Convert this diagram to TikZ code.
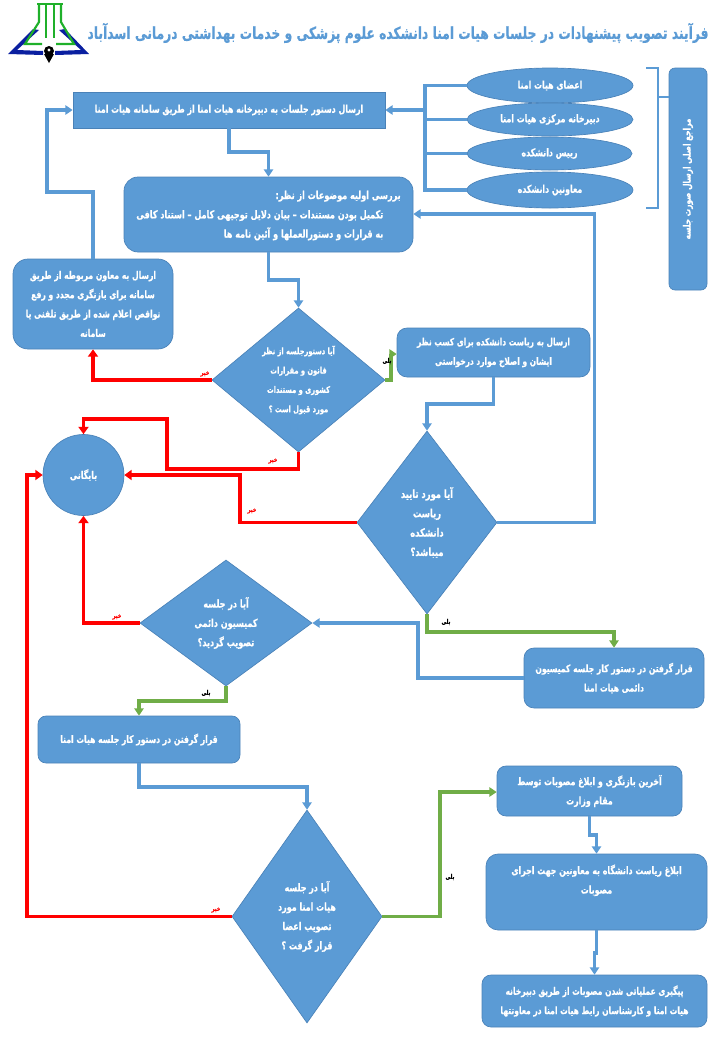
\documentclass[tikz,border=0pt]{standalone}
\usepackage{fontspec}
\usetikzlibrary{arrows.meta,shapes.geometric}
\TeXXeTstate=1
\newfontfamily\fafont[Script=Arabic,FakeStretch=0.82,FakeBold=0.5]{DejaVu Sans Condensed}
\newcommand{\fa}[1]{\beginR #1\endR}
\newcommand{\fs}[1]{\fontsize{#1}{14.5}\selectfont}
\definecolor{boxblue}{HTML}{5B9BD5}
\definecolor{boxedge}{HTML}{4A82B8}
\definecolor{lnblue}{HTML}{5B9BD5}
\definecolor{lngreen}{HTML}{70AD47}
\definecolor{lnred}{HTML}{FF0000}
\definecolor{bookblue}{HTML}{0A1FA0}
\definecolor{flaskgreen}{HTML}{1FB02A}
\tikzset{
  x=0.75pt,y=-0.75pt,
  sz/.style 2 args={minimum width=#1*0.75pt,minimum height=#2*0.75pt},
  shapebase/.style={draw=boxedge,line width=0.5pt,fill=boxblue,text=white,inner sep=0pt,align=center,
    font=\fafont\bfseries\fs{8}},
  sqbox/.style={shapebase,rectangle},
  rbox/.style={shapebase,rectangle,rounded corners=#1*0.75pt},
  oval/.style={shapebase,ellipse},
  decision/.style={shapebase,diamond,aspect=#1},
  circ/.style={shapebase,circle},
  flow/.style={color=lnblue,line width=2.3pt,-{Triangle[width=7pt,length=5.5pt]}},
  plain/.style={color=lnblue,line width=2.3pt},
  no/.style={color=lnred,line width=2.8pt,-{Triangle[width=7.5pt,length=5.5pt]}},
  yes/.style={color=lngreen,line width=2.3pt,-{Triangle[width=7pt,length=5.5pt]}},
  lblno/.style={text=lnred,inner sep=0pt,font=\fafont\bfseries\fontsize{5}{5}\selectfont},
  lblyes/.style={text=black,inner sep=0pt,font=\fafont\bfseries\fontsize{5}{5}\selectfont},
}
\begin{document}
\begin{tikzpicture}
\useasboundingbox (0,0) rectangle (712,1054);
% logo
\fill[bookblue] (33,29) -- (39,30) -- (17,50) -- (43,51) -- (43,55) -- (8,54) -- cycle;
\fill[bookblue] (65,29) -- (59,30) -- (81,50) -- (55,51) -- (55,55) -- (89,54) -- cycle;
\draw[flaskgreen,line width=1.6pt] (39,5) -- (39,22) -- (25,44) -- (42,44);
\draw[flaskgreen,line width=1.6pt] (61,5) -- (61,22) -- (74,44) -- (56,44);
\draw[flaskgreen,line width=1.6pt] (46,5) -- (46,38) (54,5) -- (54,38);
\draw[flaskgreen,line width=1.6pt] (37,4) -- (63,4);
\fill[black] (49,51) circle (5);
\fill[black] (44,54) -- (54,54) -- (49,63) -- cycle;
\fill[white] (49,50) circle (1.6);
% title
\node[text=boxblue,inner sep=0pt,font=\fafont\bfseries\fontsize{12.5}{14}\selectfont] (title) at (398,33) {\fa{فرآیند تصویب پیشنهادات در جلسات هیات امنا دانشکده علوم پزشکی و خدمات بهداشتی درمانی اسدآباد}};
% ellipses
\node[oval,sz={166}{35}] (e1) at (550,85.5) {\fa{اعضای هیات  امنا}};
\node[oval,sz={166}{33}] (e2) at (550,119.5) {\fa{دبیرخانه مرکزی هیات امنا}};
\node[oval,sz={165}{33}] (e3) at (549.5,153.5) {\fa{رییس  دانشکده}};
\node[oval,sz={166}{36}] (e4) at (550,190) {\fa{معاونین  دانشکده}};
% right box
\node[rbox=6,sz={38}{222}] (refs) at (688,179) {};
\node[text=white,inner sep=0pt,rotate=90,font=\fafont\bfseries\fs{7.6}] (refstext) at (refs.center) {\fa{مراجع اصلی ارسال صورت جلسه}};
% boxes
\node[sqbox,sz={312}{36}] (b1) at (229,110) {\fa{ارسال دستور جلسات به دبیرخانه هیات امنا  از طریق سامانه  هیات امنا}};
\node[rbox=14,sz={289}{75},font=\fafont\bfseries\fs{8.2}] (b2) at (268.5,214.5) {\begin{tabular}{@{}r@{}}\fa{بررسی اولیه موضوعات از نظر:}\\ \fa{تکمیل بودن مستندات – بیان دلایل توجیهی کامل – استناد کافی}\hspace*{13pt}\\ \fa{به قرارات و دستورالعملها و آئین نامه ها}\hspace*{13pt}\end{tabular}};
\node[rbox=15,sz={160}{90},font=\fafont\bfseries\fs{7.8}] (bl) at (93,304) {\fa{ارسال به معاون مربوطه از طریق}\\ \fa{سامانه برای بازنگری مجدد و رفع}\\ \fa{نواقص اعلام شده از طریق تلفنی یا}\\ \fa{سامانه}};
\node[rbox=10,sz={193}{49},font=\fafont\bfseries\fs{7.6}] (b3) at (493.5,352.5) {\fa{ارسال به ریاست دانشکده برای کسب نظر}\\ \fa{ایشان و اصلاح موارد درخواستی}};
\node[rbox=10,sz={180}{60},font=\fafont\bfseries\fs{7.8}] (b4) at (614,678) {\fa{قرار گرفتن در دستور کار جلسه کمیسیون}\\ \fa{دائمی هیات امنا}};
\node[rbox=8,sz={202}{47},font=\fafont\bfseries\fs{7.8}] (b5) at (139,739.5) {\fa{قرار گرفتن در دستور کار جلسه هیات امنا}};
\node[rbox=9,sz={185}{50}] (b6) at (589.5,791) {\fa{آخرین بازنگری و ابلاغ مصوبات توسط}\\ \fa{مقام وزارت}};
\node[rbox=12,sz={221}{76}] (b7) at (596.5,892) {\fa{ابلاغ ریاست دانشگاه به معاونین جهت اجرای}\\ \fa{مصوبات}\\[5pt]};
\node[rbox=9,sz={225}{52},font=\fafont\bfseries\fs{7.7}] (b8) at (594.5,1001) {\fa{پیگیری عملیاتی شدن مصوبات از طریق دبیرخانه}\\ \fa{هیات امنا و کارشناسان رابط هیات امنا در معاونتها}};
% circle
\node[circ,sz={81}{81}] (arch) at (83.5,475) {\fa{بایگانی}};
% decisions
\node[decision=1.2,sz={173}{144},font=\fafont\bfseries\fs{6.8}] (d1) at (298.5,380) {\fa{آیا دستورجلسه از نظر}\\ \fa{قانون و مقرارات}\\ \fa{کشوری و مستندات}\\ \fa{مورد قبول است ؟}};
\node[decision=0.765,sz={140}{183},font=\fafont\bfseries\fs{8.5}] (d2) at (427,522.5) {\fa{آیا مورد تایید}\\ \fa{ریاست}\\ \fa{دانشکده}\\ \fa{میباشد؟}};
\node[decision=1.37,sz={172}{126},font=\fafont\bfseries\fs{8.2}] (d3) at (226,623) {\fa{آیا در جلسه}\\ \fa{کمیسیون دائمی}\\ \fa{تصویب گردید؟}};
\node[decision=0.704,sz={150}{213},font=\fafont\bfseries\fs{8.1}] (d4) at (307,916.5) {\fa{آیا در جلسه}\\ \fa{هیات امنا مورد}\\ \fa{تصویب اعضا}\\ \fa{قرار گرفت ؟}};
% bracket
\coordinate (brT0) at (646,68);
\coordinate (brT) at (658,68);
\coordinate (brB) at (658,208);
\coordinate (brB0) at (646,208);
\coordinate (brM) at (658,97);
\draw[plain,line width=1.8pt] (brT0) -- (brT) -- (brB) -- (brB0);
\draw[plain,line width=1.8pt] (brM) -- (brM -| refs.west);
% collector
\coordinate (cT) at (425,85.5);
\coordinate (cB) at (425,190);
\coordinate (cM) at (425,110);
\draw[plain] (e1.west) -- (cT) -- (cB) -- (e4.west);
\draw[plain] (e2.west) -- (e2.west -| cT);
\draw[plain] (e3.west) -- (e3.west -| cT);
\draw[flow] (cM) -- (cM -| b1.east);
% blue flow
\coordinate (f1a) at (229,152);
\draw[flow] (b1.south) -- (f1a) -- (f1a -| b2.north) -- (b2.north);
\coordinate (f2a) at (268.5,280);
\draw[flow] (b2.south) -- (f2a) -- (f2a -| d1.north) -- (d1.north);
\coordinate (f3a) at (93,192);
\coordinate (f3b) at (47,192);
\coordinate (f3c) at (47,110);
\draw[flow] (bl.north) -- (f3a) -- (f3b) -- (f3c) -- (f3c -| b1.west);
\coordinate (f4a) at (493.5,404);
\draw[flow] (b3.south) -- (f4a) -- (f4a -| d2.north) -- (d2.north);
\coordinate (f5a) at (594.5,522.5);
\coordinate (f5b) at (594.5,214);
\draw[flow] (d2.east) -- (f5a) -- (f5b) -- (f5b -| b2.east);
\coordinate (f6a) at (418,678);
\coordinate (f6b) at (418,623);
\draw[flow] (b4.west) -- (f6a) -- (f6b) -- (d3.east);
\coordinate (f7a) at (139,787);
\draw[flow] (b5.south) -- (f7a) -- (f7a -| d4.north) -- (d4.north);
\coordinate (f8a) at (589.5,835);
\draw[flow] (b6.south) -- (f8a) -- (f8a -| b7.north) -- (b7.north);
\coordinate (f9a) at (596.5,953);
\draw[flow] (b7.south) -- (f9a) -- (f9a -| b8.north) -- (b8.north);
% red
\coordinate (r1a) at (93,380);
\draw[no] (d1.west) -- (r1a) -- (bl.south);
\coordinate (r2a) at (298.5,469);
\coordinate (r2b) at (167,469);
\coordinate (r2c) at (167,419);
\coordinate (r2d) at (83.5,419);
\draw[no] (d1.south) -- (r2a) -- (r2b) -- (r2c) -- (r2d) -- (arch.north);
\coordinate (r3a) at (240,522.5);
\coordinate (r3b) at (240,475);
\draw[no] (d2.west) -- (r3a) -- (r3b) -- (arch.east);
\coordinate (r4a) at (83.5,623);
\draw[no] (d3.west) -- (r4a) -- (arch.south);
\coordinate (r5a) at (27,916.5);
\coordinate (r5b) at (27,475);
\draw[no] (d4.west) -- (r5a) -- (r5b) -- (arch.west);
% green
\coordinate (g1a) at (391,380);
\coordinate (g1b) at (391,354);
\draw[yes] (d1.east) -- (g1a) -- (g1b) -- (g1b -| b3.west);
\coordinate (g2a) at (427,632);
\coordinate (g2b) at (614,632);
\draw[yes] (d2.south) -- (g2a) -- (g2b) -- (b4.north);
\coordinate (g3a) at (226,701);
\coordinate (g3b) at (139,701);
\draw[yes] (d3.south) -- (g3a) -- (g3b) -- (b5.north);
\coordinate (g4a) at (440,916.5);
\coordinate (g4b) at (440,792);
\draw[yes] (d4.east) -- (g4a) -- (g4b) -- (g4b -| b6.west);
% labels
\node[lblno] (n1) at (205,374) {\fa{خیر}};
\node[lblno] (n2) at (273,461) {\fa{خیر}};
\node[lblno] (n3) at (252,511) {\fa{خیر}};
\node[lblno] (n4) at (117,617) {\fa{خیر}};
\node[lblno] (n5) at (216,910) {\fa{خیر}};
\node[lblyes] (y1) at (387,361) {\fa{بلی}};
\node[lblyes] (y2) at (446,622) {\fa{بلی}};
\node[lblyes] (y3) at (206,693) {\fa{بلی}};
\node[lblyes] (y4) at (450,877) {\fa{بلی}};
\end{tikzpicture}
\end{document}
